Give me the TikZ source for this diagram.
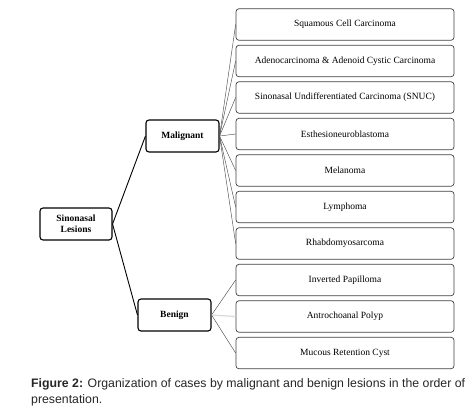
\documentclass[tikz,border=0pt]{standalone}
\usepackage{fontspec}
\setmainfont{Liberation Serif}
\newfontfamily\capfont{Liberation Sans}
\usepackage{xcolor}
\usepackage{tikz}
\usetikzlibrary{positioning}

\begin{document}
\begin{tikzpicture}[x=1pt,y=-1pt,
  leaf/.style={draw=black!75,line width=0.7pt,rounded corners=3pt,minimum width=218pt,minimum height=31.5pt,inner sep=0pt,font=\fontsize{9.5}{11}\selectfont},
  group/.style={draw=black,line width=1.1pt,rounded corners=3pt,minimum width=72pt,minimum height=32pt,inner sep=0pt,align=center,font=\fontsize{9.5}{11}\selectfont\bfseries},
  branch/.style={black!70,line width=0.45pt},
  trunk/.style={black,line width=0.9pt}]
\useasboundingbox (0,0) rectangle (476,416);
% top level
\node[group] (root) at (76,224) {Sinonasal\\Lesions};
\node[group,minimum width=73pt] (mal) at (182.5,136) {Malignant};
\node[group,minimum width=73pt] (ben) at (174.5,315) {Benign};
\draw[trunk](root.east)--(mal.west);
\draw[trunk](root.east)--(ben.west);
% malignant lesions
\foreach \txt [count=\i] in {Squamous Cell Carcinoma,
  Adenocarcinoma \& Adenoid Cystic Carcinoma,
  Sinonasal Undifferentiated Carcinoma (SNUC),
  Esthesioneuroblastoma,Melanoma,Lymphoma,Rhabdomyosarcoma}
  \node[leaf] (m\i) at (345,24.5+36.5*\i-36.5) {\txt};
\foreach \i in {1,...,7}
  \draw[branch](mal.east)--(m\i.west);
% benign lesions
\foreach \txt [count=\i] in {Inverted Papilloma,Antrochoanal Polyp,Mucous Retention Cyst}
  \node[leaf] (b\i) at (345,280+36.5*\i-36.5) {\txt};
\draw[branch](ben.east)--(b1.west);
\draw[black!15,line width=1.2pt](ben.east)--(b2.west);
\draw[branch](ben.east)--(b3.west);
% caption
\node[anchor=north west,align=left,inner sep=0pt,text=black!85,
  font=\capfont\fontsize{12.3}{16}\selectfont] (cap) at (31,378.5)
  {\textbf{Figure 2:} Organization of cases by malignant and benign lesions in the order of\\presentation.};
\end{tikzpicture}
\end{document}
